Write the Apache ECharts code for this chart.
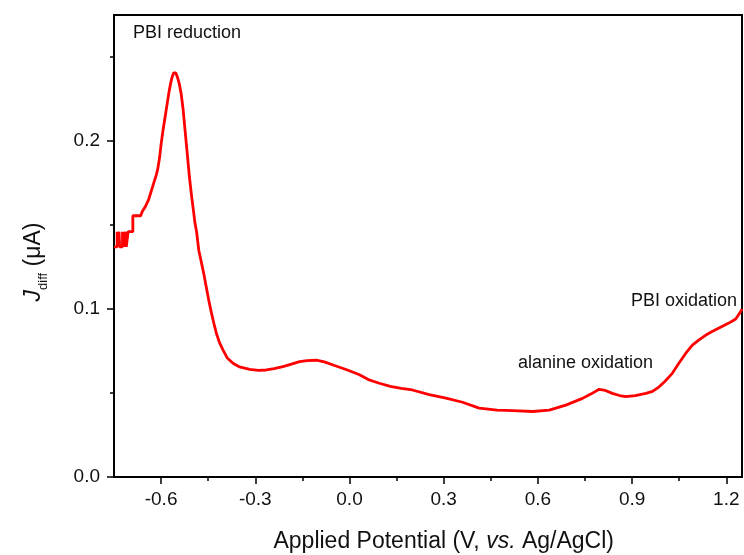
<!DOCTYPE html>
<html><head><meta charset="utf-8">
<script src="https://cdn.jsdelivr.net/npm/echarts@6/dist/echarts.min.js"></script>
<style>html,body{margin:0;padding:0;background:#fff}#c{width:744px;height:555px}</style>
</head><body><div id="c"></div>
<script>
// Applied potential (V vs Ag/AgCl)
const potential = [
 -0.750,-0.740,-0.740,-0.738,-0.738,-0.734,-0.734,-0.732,-0.732,-0.723,-0.723,-0.721,-0.721,-0.719,-0.719,-0.717,-0.717,-0.713,-0.713,-0.711,-0.711,-0.705,-0.705,-0.690,-0.690,-0.665,
 -0.660,-0.655,-0.650,-0.645,-0.640,-0.635,-0.630,-0.625,-0.620,-0.615,-0.610,-0.605,-0.600,-0.595,-0.590,-0.585,-0.580,-0.575,-0.570,-0.565,-0.560,-0.553,
 -0.548,-0.542,-0.536,-0.530,-0.525,-0.520,-0.515,-0.510,-0.504,-0.498,-0.492,-0.487,-0.480,-0.472,-0.464,-0.456,-0.448,-0.440,-0.432,-0.424,-0.414,-0.403,
 -0.390,-0.371,-0.350,-0.318,-0.290,-0.265,-0.240,-0.212,-0.185,-0.159,-0.135,-0.106,-0.080,-0.050,-0.011,0.030,0.060,0.095,0.130,0.165,0.200,0.254,0.307,
 0.360,0.413,0.470,0.520,0.583,0.636,0.689,0.742,0.770,0.795,0.815,0.837,0.860,0.880,0.910,0.944,0.965,0.986,1.005,1.028,1.050,1.071,1.092,1.113,1.135,
 1.155,1.180,1.208,1.230,1.246,1.250];
// Differential current J_diff (µA)
const current = [
 0.137,0.137,0.146,0.146,0.137,0.137,0.146,0.146,0.137,0.137,0.146,0.146,0.137,0.137,0.146,0.146,0.137,0.137,0.146,0.146,0.137,0.137,0.146,0.146,0.1555,0.1555,
 0.158,0.159,0.161,0.163,0.165,0.168,0.171,0.174,0.177,0.180,0.184,0.190,0.198,0.205,0.211,0.217,0.223,0.229,0.234,0.238,0.2405,0.2405,
 0.238,0.234,0.228,0.219,0.209,0.199,0.189,0.179,0.169,0.160,0.151,0.146,0.135,0.128,0.121,0.113,0.105,0.098,0.0915,0.0856,0.080,0.0757,
 0.071,0.0677,0.0655,0.0640,0.0635,0.0637,0.0645,0.0657,0.0672,0.0687,0.0693,0.0695,0.0685,0.0665,0.0640,0.0610,0.0580,0.0558,0.0540,0.0528,0.0518,0.0490,0.0470,
 0.0445,0.0410,0.0398,0.0395,0.0390,0.0398,0.0428,0.0468,0.0495,0.0522,0.0515,0.0498,0.0485,0.0478,0.0485,0.0498,0.0510,0.0537,0.0570,0.0617,0.0680,0.0737,0.0785,0.0816,0.0845,
 0.0866,0.0890,0.0916,0.0940,0.0985,0.100];
const xTickLabels = ['-0.6','-0.3','0.0','0.3','0.6','0.9','1.2'];
const yTickLabels = ['0.0','0.1','0.2'];
const annotations = [
  {text:'PBI reduction', x:133, y:33},
  {text:'alanine oxidation', x:518, y:363},
  {text:'PBI oxidation', x:631, y:301}
];

const FONT = '"Liberation Sans", Arial, sans-serif';
const gL = 114, gR = 2, gT = 15, gB = 78;
const xMin = -0.75, xMax = 1.25, yMin = 0, yMax = 0.275;
const W = 744, H = 555;
const pw = W - gL - gR, ph = H - gT - gB;
const tickXmin = -0.6, tickXmax = 1.2, tickYmax = 0.3;
const g2L = gL + (tickXmin - xMin) / (xMax - xMin) * pw;
const g2R = gR + (xMax - tickXmax) / (xMax - xMin) * pw;
const g2H = ph * (tickYmax - yMin) / (yMax - yMin);

const data = potential.map((x, i) => [x, current[i]]);
const chart = echarts.init(document.getElementById('c'), null, {renderer: 'canvas'});
const tickStyle = {color: '#000', width: 1.5};
chart.setOption({
  backgroundColor: '#fff',
  animation: false,
  textStyle: {fontFamily: FONT},
  grid: [
    {left: gL, right: gR, top: gT, bottom: gB, show: true, borderColor: '#000', borderWidth: 2, containLabel: false, outerBoundsMode: 'none'},
    {left: g2L, right: g2R, bottom: gB, height: g2H, containLabel: false, outerBoundsMode: 'none'}
  ],
  xAxis: [
    {gridIndex: 0, type: 'value', min: xMin, max: xMax, axisLine: {show: true, onZero: false, lineStyle: {color: '#000', width: 2}},
     axisTick: {show: false}, axisLabel: {show: false}, splitLine: {show: false}},
    {gridIndex: 1, type: 'value', min: tickXmin, max: tickXmax, interval: 0.3,
     axisLine: {show: false, onZero: false}, axisTick: {show: true, length: 7, lineStyle: tickStyle},
     minorTick: {show: true, splitNumber: 2, length: 4, lineStyle: tickStyle},
     splitLine: {show: false}, minorSplitLine: {show: false},
     axisLabel: {fontSize: 19, color: '#111', margin: 13, fontFamily: FONT,
       formatter: v => { const i = Math.round((v - tickXmin) / 0.3); return xTickLabels[i] || ''; }},
     name: 'Applied Potential (V, {i|vs.} Ag/AgCl)', nameLocation: 'middle', nameGap: 53,
     nameTextStyle: {fontSize: 23, color: '#111', fontFamily: FONT, rich: {i: {fontStyle: 'italic', fontSize: 23, color: '#111', fontFamily: FONT}}}}
  ],
  yAxis: [
    {gridIndex: 0, type: 'value', min: yMin, max: yMax, axisLine: {show: true, onZero: false, lineStyle: {color: '#000', width: 2}},
     axisTick: {show: false}, axisLabel: {show: false}, splitLine: {show: false}},
    {gridIndex: 1, type: 'value', min: 0, max: tickYmax, interval: 0.1, offset: g2L - gL,
     axisLine: {show: false, onZero: false}, axisTick: {show: true, length: 7, lineStyle: tickStyle},
     minorTick: {show: true, splitNumber: 2, length: 4, lineStyle: tickStyle},
     splitLine: {show: false}, minorSplitLine: {show: false},
     axisLabel: {fontSize: 19, color: '#111', margin: 14, fontFamily: FONT,
       formatter: v => { const i = Math.round(v / 0.1); return yTickLabels[i] || ''; }}}
  ],
  series: [{
    type: 'line', xAxisIndex: 0, yAxisIndex: 0, data: data, showSymbol: false,
    lineStyle: {color: '#ff0000', width: 2.8}, itemStyle: {color: '#ff0000'}
  }],
  graphic: [
    ...annotations.map(a => ({type: 'text', x: a.x, y: a.y,
      style: {text: a.text, fill: '#111', font: '18px ' + FONT, verticalAlign: 'middle', align: 'left'}})),
    {type: 'text', x: 34, y: 262, rotation: Math.PI / 2,
     style: {text: '{j|J}{s|diff}{n| (μA)}', align: 'center', verticalAlign: 'middle',
       rich: {
         j: {fontStyle: 'italic', fontSize: 23, fontFamily: FONT, fill: '#111', lineHeight: 32},
         s: {fontSize: 13, fontFamily: FONT, fill: '#111', lineHeight: 13, verticalAlign: 'bottom'},
         n: {fontSize: 23, fontFamily: FONT, fill: '#111', lineHeight: 32}
       }}}
  ]
});
</script></body></html>
